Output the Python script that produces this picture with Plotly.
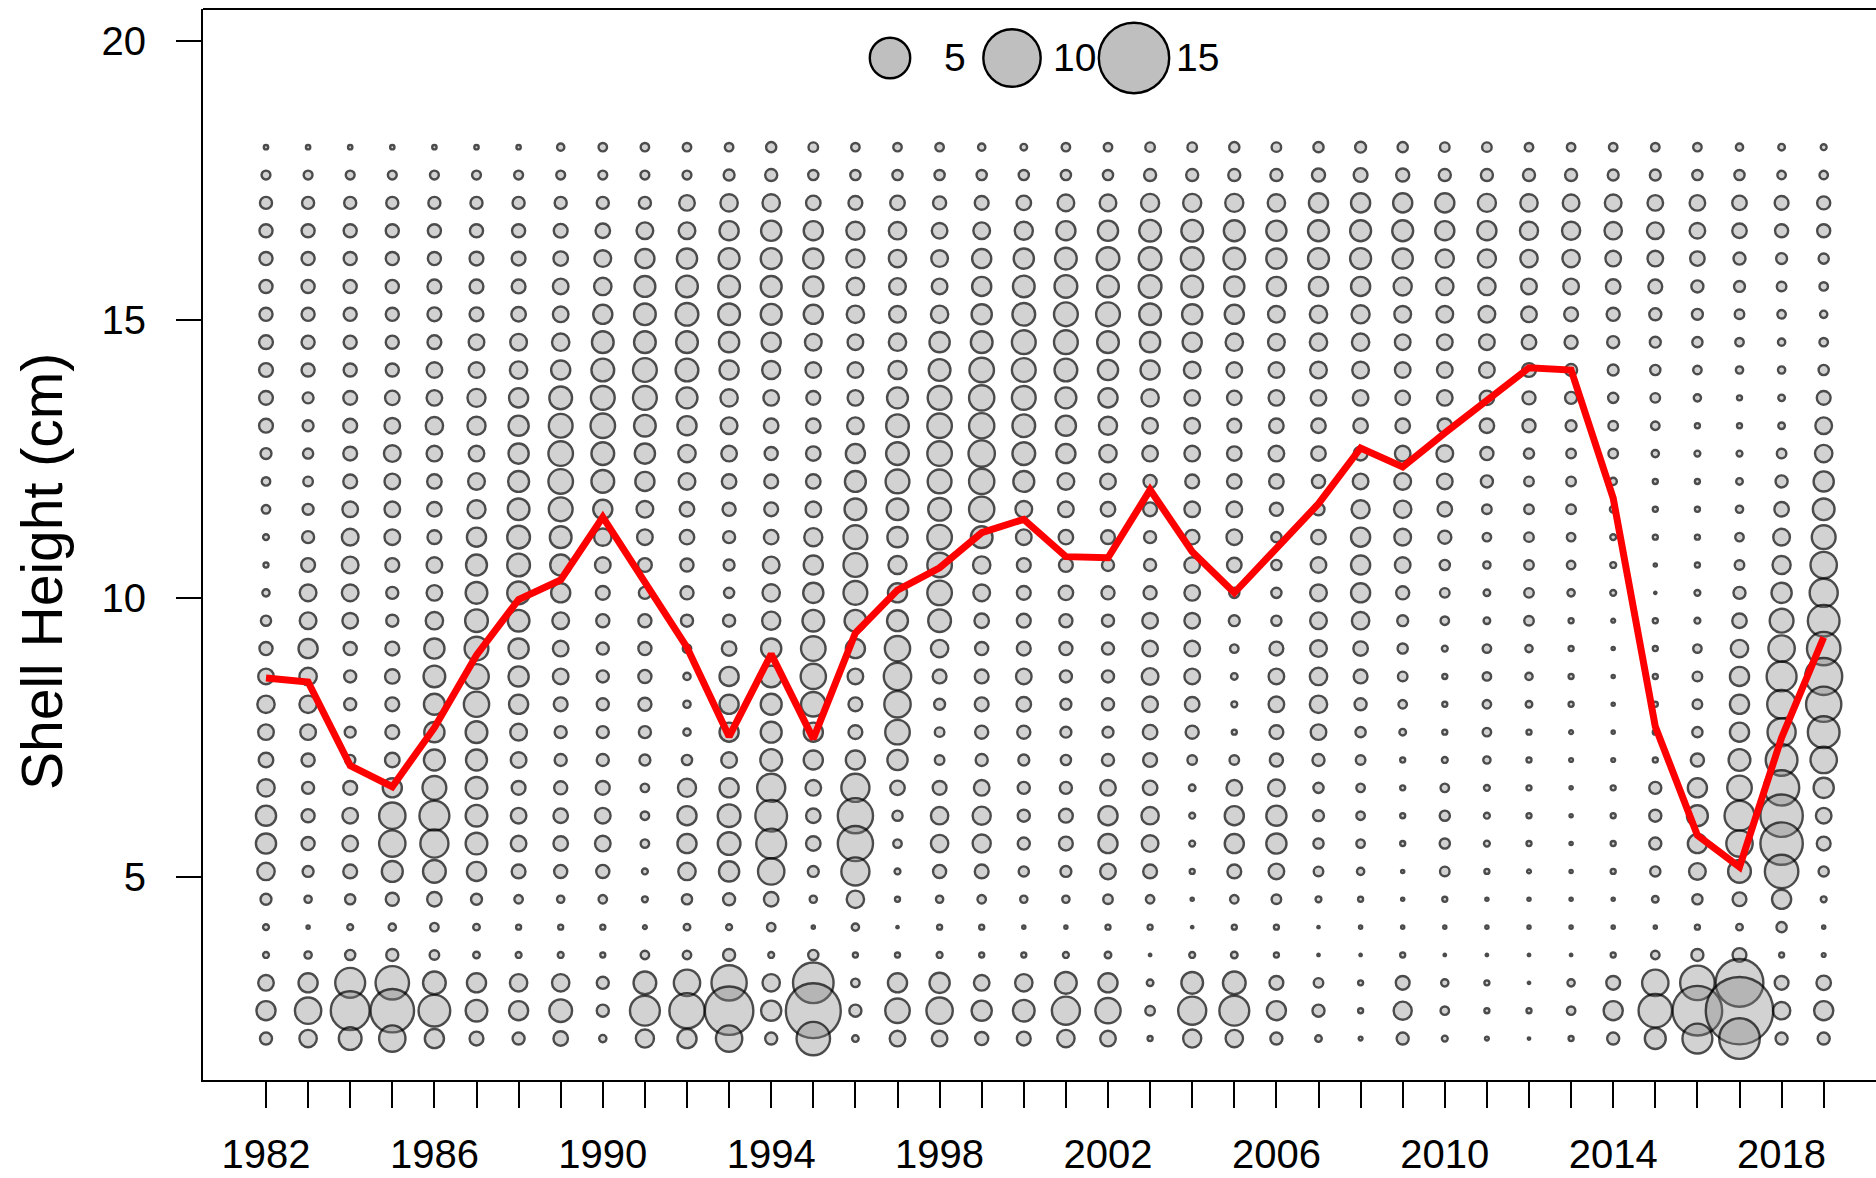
import math
import plotly.graph_objects as go

# ---------------- data ----------------
years = list(range(1982, 2020))
tick_labels = ["1982", "", "", "", "1986", "", "", "", "1990", "", "", "", "1994", "", "", "",
               "1998", "", "", "", "2002", "", "", "", "2006", "", "", "", "2010", "", "", "",
               "2014", "", "", "", "2018", ""]
heights = [18.1, 17.6, 17.1, 16.6, 16.1, 15.6, 15.1, 14.6, 14.1, 13.6, 13.1, 12.6, 12.1, 11.6,
           11.1, 10.6, 10.1, 9.6, 9.1, 8.6, 8.1, 7.6, 7.1, 6.6, 6.1, 5.6, 5.1, 4.6, 4.1, 3.6,
           3.1, 2.6, 2.1]

mean_height = [8.57, 8.5, 7.0, 6.62, 7.68, 8.98, 9.98, 10.33, 11.46, 10.3, 9.12, 7.52, 9.0,
               7.48, 9.38, 10.15, 10.55, 11.18, 11.42, 10.75, 10.73, 11.95, 10.84, 10.1, 10.9,
               11.7, 12.7, 12.36, 12.97, 13.56, 14.14, 14.1, 11.8, 7.7, 5.75, 5.18, 7.5, 9.3]

# values per year (top row 18.1 cm first, down to 2.1 cm)
counts = [
    [0.07, 0.26, 0.47, 0.55, 0.55, 0.55, 0.55, 0.61, 0.61, 0.61, 0.61, 0.39, 0.24, 0.24, 0.12, 0.09, 0.18, 0.34, 0.55, 0.77, 0.95, 0.77, 0.67, 0.95, 1.28, 1.28, 0.95, 0.39, 0.12, 0.12, 0.77, 1.15, 0.47],
    [0.07, 0.26, 0.47, 0.55, 0.55, 0.55, 0.55, 0.55, 0.55, 0.39, 0.39, 0.34, 0.30, 0.39, 0.47, 0.61, 0.88, 0.88, 1.15, 0.95, 0.95, 0.77, 0.55, 0.47, 0.55, 0.55, 0.39, 0.18, 0.04, 0.18, 1.15, 2.15, 0.95],
    [0.07, 0.26, 0.47, 0.55, 0.55, 0.55, 0.55, 0.55, 0.55, 0.61, 0.61, 0.61, 0.61, 0.77, 0.88, 0.88, 0.88, 0.77, 0.55, 0.47, 0.47, 0.39, 0.34, 0.61, 0.77, 0.77, 0.61, 0.34, 0.12, 0.34, 2.76, 4.62, 1.61],
    [0.07, 0.26, 0.47, 0.55, 0.55, 0.55, 0.55, 0.55, 0.55, 0.67, 0.77, 0.88, 0.77, 0.77, 0.77, 0.61, 0.47, 0.47, 0.61, 0.67, 0.61, 0.61, 0.67, 1.15, 2.15, 2.15, 1.37, 0.55, 0.18, 0.47, 3.44, 5.77, 2.15],
    [0.07, 0.26, 0.47, 0.55, 0.55, 0.61, 0.61, 0.61, 0.77, 0.77, 0.95, 0.77, 0.67, 0.67, 0.61, 0.77, 0.77, 0.95, 1.28, 1.47, 1.37, 1.28, 1.37, 1.76, 2.76, 2.44, 1.61, 0.67, 0.24, 0.30, 1.61, 3.09, 1.15],
    [0.07, 0.26, 0.47, 0.55, 0.61, 0.61, 0.61, 0.77, 0.77, 1.03, 1.03, 0.77, 0.88, 1.03, 1.15, 1.37, 1.47, 1.61, 1.76, 1.87, 1.98, 1.47, 1.37, 1.47, 1.47, 1.47, 1.15, 0.39, 0.15, 0.15, 1.15, 1.47, 0.61],
    [0.07, 0.26, 0.47, 0.55, 0.61, 0.61, 0.67, 0.88, 0.95, 1.15, 1.28, 1.28, 1.37, 1.47, 1.61, 1.61, 1.61, 1.47, 1.28, 1.28, 1.15, 0.88, 0.77, 0.61, 0.77, 0.77, 0.61, 0.24, 0.09, 0.12, 0.95, 1.15, 0.47],
    [0.18, 0.26, 0.47, 0.61, 0.67, 0.77, 0.77, 0.95, 1.15, 1.61, 1.76, 1.87, 1.87, 1.76, 1.47, 1.37, 1.15, 0.88, 0.77, 0.77, 0.61, 0.47, 0.47, 0.55, 0.67, 0.67, 0.55, 0.18, 0.09, 0.12, 0.95, 1.61, 0.67],
    [0.24, 0.26, 0.47, 0.67, 0.88, 0.95, 1.15, 1.47, 1.61, 1.76, 1.87, 1.61, 1.61, 1.15, 0.95, 0.77, 0.61, 0.55, 0.47, 0.47, 0.47, 0.47, 0.47, 0.61, 0.77, 0.77, 0.55, 0.24, 0.09, 0.09, 0.47, 0.47, 0.18],
    [0.24, 0.26, 0.47, 0.88, 1.15, 1.37, 1.47, 1.47, 1.76, 1.76, 1.47, 1.28, 1.15, 0.88, 0.77, 0.61, 0.47, 0.55, 0.55, 0.55, 0.55, 0.47, 0.39, 0.24, 0.24, 0.24, 0.12, 0.12, 0.055, 0.24, 1.61, 2.76, 1.03],
    [0.24, 0.26, 0.77, 0.88, 1.28, 1.47, 1.61, 1.47, 1.61, 1.37, 1.15, 0.95, 0.88, 0.67, 0.67, 0.55, 0.55, 0.47, 0.24, 0.18, 0.18, 0.18, 0.34, 1.03, 1.15, 1.15, 0.95, 0.34, 0.15, 0.24, 2.15, 3.81, 1.15],
    [0.24, 0.39, 0.95, 1.15, 1.37, 1.47, 1.47, 1.28, 1.15, 0.95, 0.88, 0.77, 0.67, 0.55, 0.47, 0.39, 0.34, 0.47, 0.67, 1.15, 1.15, 1.15, 0.77, 1.15, 1.61, 1.61, 1.28, 0.47, 0.12, 0.47, 3.81, 7.16, 2.15],
    [0.34, 0.47, 0.95, 1.28, 1.37, 1.37, 1.37, 1.15, 1.03, 0.77, 0.67, 0.55, 0.61, 0.61, 0.67, 0.88, 0.95, 1.03, 1.28, 1.47, 1.37, 1.37, 1.47, 2.44, 3.09, 2.76, 2.15, 0.67, 0.24, 0.12, 0.95, 1.28, 0.47],
    [0.30, 0.34, 0.67, 1.15, 1.28, 1.28, 1.15, 0.88, 0.77, 0.61, 0.67, 0.67, 0.67, 0.77, 1.03, 1.15, 1.28, 1.47, 1.87, 1.98, 1.87, 1.15, 1.15, 0.77, 0.67, 0.67, 0.39, 0.18, 0.04, 0.34, 5.04, 9.16, 3.44],
    [0.24, 0.34, 0.61, 1.03, 1.03, 0.95, 0.95, 0.77, 0.77, 0.77, 0.88, 1.15, 1.37, 1.47, 1.76, 1.76, 1.76, 1.47, 1.15, 0.77, 0.61, 0.61, 1.15, 2.44, 3.81, 3.81, 2.44, 0.95, 0.18, 0.09, 0.24, 0.47, 0.15],
    [0.24, 0.34, 0.67, 0.95, 0.95, 0.88, 0.88, 0.95, 1.03, 1.37, 1.61, 1.61, 1.76, 1.47, 1.28, 1.03, 1.15, 1.37, 1.98, 2.32, 2.15, 1.87, 1.28, 0.67, 0.34, 0.24, 0.12, 0.09, 0.024, 0.09, 1.15, 1.87, 0.77],
    [0.24, 0.34, 0.55, 0.77, 0.88, 0.77, 0.95, 1.28, 1.47, 1.76, 1.87, 1.87, 1.76, 1.61, 1.87, 1.87, 1.87, 1.61, 0.95, 0.61, 0.39, 0.30, 0.30, 0.61, 0.95, 0.95, 0.55, 0.18, 0.09, 0.12, 1.28, 2.15, 0.77],
    [0.18, 0.34, 0.61, 0.88, 1.15, 1.15, 1.28, 1.47, 1.87, 1.98, 1.98, 2.15, 1.98, 1.98, 1.47, 0.95, 0.88, 0.67, 0.55, 0.61, 0.61, 0.55, 0.47, 0.77, 1.03, 1.03, 0.61, 0.24, 0.09, 0.09, 0.77, 1.28, 0.55],
    [0.15, 0.34, 0.67, 1.03, 1.28, 1.47, 1.61, 1.76, 1.76, 1.76, 1.61, 1.61, 1.37, 0.88, 0.77, 0.61, 0.61, 0.61, 0.61, 0.77, 0.67, 0.55, 0.39, 0.47, 0.47, 0.47, 0.34, 0.18, 0.04, 0.09, 0.95, 1.47, 0.61],
    [0.24, 0.34, 0.88, 1.15, 1.47, 1.61, 1.76, 1.76, 1.61, 1.37, 1.28, 1.15, 0.88, 0.77, 0.67, 0.61, 0.67, 0.55, 0.55, 0.47, 0.39, 0.39, 0.34, 0.47, 0.61, 0.61, 0.39, 0.18, 0.04, 0.12, 1.47, 2.44, 0.95],
    [0.24, 0.34, 0.88, 1.28, 1.61, 1.47, 1.76, 1.47, 1.28, 1.15, 1.03, 0.95, 0.77, 0.67, 0.61, 0.47, 0.55, 0.47, 0.47, 0.47, 0.47, 0.39, 0.47, 0.77, 1.15, 1.15, 0.77, 0.30, 0.09, 0.15, 1.15, 1.98, 0.77],
    [0.30, 0.47, 1.03, 1.47, 1.61, 1.61, 1.47, 1.28, 1.15, 0.95, 0.77, 0.77, 0.55, 0.61, 0.47, 0.47, 0.55, 0.77, 0.77, 0.88, 0.77, 0.67, 0.61, 0.67, 0.95, 0.88, 0.61, 0.24, 0.09, 0.024, 0.15, 0.30, 0.09],
    [0.30, 0.47, 1.03, 1.47, 1.61, 1.47, 1.28, 1.15, 0.88, 0.77, 0.77, 0.77, 0.61, 0.77, 0.67, 0.77, 0.77, 0.77, 0.77, 0.77, 0.67, 0.55, 0.30, 0.15, 0.12, 0.12, 0.09, 0.04, 0.024, 0.12, 1.47, 2.44, 1.03],
    [0.34, 0.47, 1.03, 1.37, 1.47, 1.28, 1.15, 0.95, 0.77, 0.67, 0.61, 0.67, 0.67, 0.77, 0.77, 0.67, 0.34, 0.39, 0.24, 0.15, 0.12, 0.09, 0.30, 0.77, 1.15, 1.15, 0.61, 0.24, 0.09, 0.15, 1.61, 2.76, 0.95],
    [0.30, 0.47, 0.95, 1.28, 1.28, 1.15, 0.88, 0.88, 0.77, 0.77, 0.67, 0.77, 0.67, 0.55, 0.34, 0.34, 0.34, 0.34, 0.61, 0.77, 0.77, 0.61, 0.55, 0.88, 1.28, 1.28, 0.77, 0.30, 0.09, 0.09, 0.61, 1.15, 0.47],
    [0.34, 0.55, 1.15, 1.37, 1.37, 1.15, 0.95, 0.95, 0.88, 0.77, 0.67, 0.67, 0.55, 0.47, 0.67, 0.77, 0.88, 0.88, 0.88, 0.95, 0.95, 0.77, 0.47, 0.34, 0.39, 0.34, 0.30, 0.12, 0.024, 0.024, 0.30, 0.47, 0.15],
    [0.39, 0.61, 1.15, 1.37, 1.37, 1.15, 1.03, 0.95, 0.88, 0.77, 0.67, 0.61, 0.77, 1.03, 1.15, 1.15, 1.15, 0.95, 0.67, 0.61, 0.47, 0.34, 0.30, 0.24, 0.24, 0.24, 0.18, 0.09, 0.04, 0.024, 0.09, 0.09, 0.055],
    [0.34, 0.55, 1.15, 1.37, 1.28, 1.03, 0.88, 0.77, 0.77, 0.67, 0.67, 0.77, 0.88, 0.95, 0.88, 0.77, 0.55, 0.39, 0.34, 0.30, 0.24, 0.15, 0.09, 0.09, 0.09, 0.09, 0.04, 0.04, 0.04, 0.09, 0.61, 1.03, 0.47],
    [0.30, 0.47, 1.15, 1.15, 1.03, 0.95, 0.88, 0.77, 0.77, 0.77, 0.67, 0.88, 0.77, 0.67, 0.55, 0.34, 0.30, 0.24, 0.12, 0.09, 0.09, 0.09, 0.12, 0.24, 0.34, 0.34, 0.30, 0.09, 0.04, 0.024, 0.18, 0.24, 0.12],
    [0.30, 0.47, 1.03, 1.15, 1.03, 0.95, 0.88, 0.77, 0.77, 0.67, 0.67, 0.55, 0.47, 0.30, 0.24, 0.18, 0.15, 0.15, 0.24, 0.24, 0.24, 0.24, 0.18, 0.12, 0.12, 0.12, 0.09, 0.04, 0.04, 0.024, 0.09, 0.09, 0.055],
    [0.24, 0.47, 0.95, 1.03, 0.95, 0.77, 0.77, 0.67, 0.61, 0.55, 0.55, 0.34, 0.30, 0.30, 0.30, 0.30, 0.30, 0.30, 0.18, 0.18, 0.15, 0.09, 0.09, 0.09, 0.09, 0.09, 0.055, 0.04, 0.04, 0.024, 0.024, 0.09, 0.024],
    [0.24, 0.47, 0.88, 1.03, 0.95, 0.77, 0.61, 0.55, 0.47, 0.47, 0.39, 0.30, 0.30, 0.30, 0.24, 0.24, 0.18, 0.09, 0.09, 0.09, 0.09, 0.055, 0.055, 0.04, 0.04, 0.04, 0.04, 0.04, 0.04, 0.024, 0.18, 0.24, 0.09],
    [0.24, 0.39, 0.88, 0.95, 0.77, 0.67, 0.55, 0.47, 0.39, 0.34, 0.30, 0.30, 0.18, 0.15, 0.12, 0.12, 0.12, 0.055, 0.04, 0.04, 0.04, 0.04, 0.055, 0.09, 0.09, 0.09, 0.09, 0.04, 0.04, 0.09, 0.61, 1.15, 0.47],
    [0.24, 0.39, 0.77, 0.88, 0.77, 0.61, 0.47, 0.39, 0.34, 0.30, 0.24, 0.18, 0.09, 0.09, 0.09, 0.04, 0.024, 0.09, 0.09, 0.09, 0.09, 0.09, 0.09, 0.47, 0.47, 0.47, 0.34, 0.15, 0.04, 0.24, 2.15, 3.44, 1.37],
    [0.24, 0.34, 0.77, 0.77, 0.67, 0.47, 0.39, 0.34, 0.24, 0.18, 0.09, 0.12, 0.09, 0.09, 0.09, 0.09, 0.12, 0.12, 0.24, 0.30, 0.30, 0.34, 0.55, 1.15, 1.37, 1.15, 0.88, 0.34, 0.09, 0.47, 3.66, 7.48, 2.76],
    [0.18, 0.34, 0.67, 0.67, 0.47, 0.39, 0.30, 0.24, 0.18, 0.09, 0.09, 0.12, 0.15, 0.18, 0.24, 0.30, 0.47, 0.67, 0.95, 1.15, 1.15, 1.15, 1.47, 1.87, 2.76, 2.15, 1.61, 0.61, 0.15, 0.61, 6.95, 13.77, 5.04],
    [0.15, 0.24, 0.61, 0.55, 0.39, 0.30, 0.24, 0.18, 0.18, 0.15, 0.15, 0.30, 0.47, 0.67, 0.88, 1.03, 1.28, 1.76, 2.15, 2.76, 2.56, 2.44, 3.09, 3.81, 5.49, 5.49, 3.44, 1.15, 0.34, 0.09, 0.61, 0.95, 0.47],
    [0.12, 0.24, 0.55, 0.55, 0.34, 0.24, 0.18, 0.24, 0.34, 0.61, 0.88, 0.95, 1.28, 1.47, 1.76, 2.15, 2.44, 3.09, 3.44, 4.2, 3.81, 3.09, 2.15, 1.28, 0.77, 0.61, 0.34, 0.12, 0.04, 0.055, 0.67, 1.15, 0.47],
]

legend_values = [5, 10, 15]
legend_labels = ["5", "10", "15"]

# ---------------- styling / scales ----------------
FONT = "Arial, Liberation Sans, sans-serif"
PX_PER_SQRT = 18.3       # visible diameter (px) ~ PX_PER_SQRT * sqrt(value)
LW = 2.4

def diam(v):
    return max(PX_PER_SQRT * math.sqrt(v) - 0.5, 1.2)

W, H = 1876, 1178
ML, MT, MB, MR = 203, 9, 98, 0
PW, PH = W - ML - MR, H - MT - MB
px_per_year = 42.1
x0 = years[0] - (266 - ML) / px_per_year
x1 = x0 + PW / px_per_year

bx, by, bs = [], [], []
for yr, col in zip(years, counts):
    for h, v in zip(heights, col):
        bx.append(yr)
        by.append(h)
        bs.append(diam(v))

fig = go.Figure()
fig.add_trace(go.Scatter(
    x=bx, y=by, mode="markers", hoverinfo="skip",
    marker=dict(size=bs, sizemode="diameter", color="rgba(128,128,128,0.5)",
                line=dict(color="#000000", width=LW)),
    showlegend=False, cliponaxis=False))
fig.add_trace(go.Scatter(
    x=years, y=mean_height, mode="lines",
    line=dict(color="#ff0000", width=7), showlegend=False))

# legend circles + labels
leg_cx = [890, 1012, 1134]
leg_lab_x = [942, 1051, 1174]
leg_cy = 58
shapes = []
annotations = []
for v, lab, cx, lx in zip(legend_values, legend_labels, leg_cx, leg_lab_x):
    r = diam(v) / 2
    shapes.append(dict(type="circle", xref="paper", yref="paper",
                       xsizemode="pixel", ysizemode="pixel",
                       xanchor=(cx - ML) / PW, yanchor=(H - MB - leg_cy) / PH,
                       x0=-r, x1=r, y0=-r, y1=r,
                       fillcolor="rgba(128,128,128,0.5)",
                       line=dict(color="#000000", width=LW)))
    annotations.append(dict(text=lab, xref="paper", yref="paper",
                            x=(lx - ML) / PW, y=(H - MB - leg_cy) / PH,
                            xanchor="left", yanchor="middle", showarrow=False,
                            font=dict(family=FONT, size=39, color="black")))

# top border of box
shapes.append(dict(type="line", xref="paper", yref="paper", x0=0, x1=1, y0=1, y1=1,
                   line=dict(color="black", width=2)))

# y-axis title
annotations.append(dict(text="Shell Height (cm)", xref="paper", yref="paper",
                        x=(42 - ML) / PW, y=(H - MB - 572) / PH, textangle=-90,
                        xanchor="center", yanchor="middle", showarrow=False,
                        font=dict(family=FONT, size=57, color="black")))

fig.update_layout(
    width=W, height=H,
    margin=dict(l=ML, r=MR, t=MT, b=MB, pad=0, autoexpand=False),
    paper_bgcolor="white", plot_bgcolor="white",
    shapes=shapes, annotations=annotations,
    xaxis=dict(range=[x0, x1], tickmode="array", tickvals=years, ticktext=tick_labels,
               ticks="outside", ticklen=26, tickwidth=2, tickcolor="black",
               showline=True, linecolor="black", linewidth=2, mirror=False,
               showgrid=False, zeroline=False, ticklabelstandoff=12, automargin=False,
               tickfont=dict(family=FONT, size=40, color="black")),
    yaxis=dict(range=[1.356, 20.58], tickmode="array", tickvals=[5, 10, 15, 20],
               ticktext=["5", "10", "15", "20"],
               ticks="outside", ticklen=25, tickwidth=2, tickcolor="black",
               showline=True, linecolor="black", linewidth=2, mirror=False,
               showgrid=False, zeroline=False, ticklabelstandoff=22, automargin=False,
               tickfont=dict(family=FONT, size=40, color="black")),
)

fig.write_html("out.html", config={"displayModeBar": False},
               post_script="document.body.style.margin='0px';document.body.style.overflow='hidden';")
